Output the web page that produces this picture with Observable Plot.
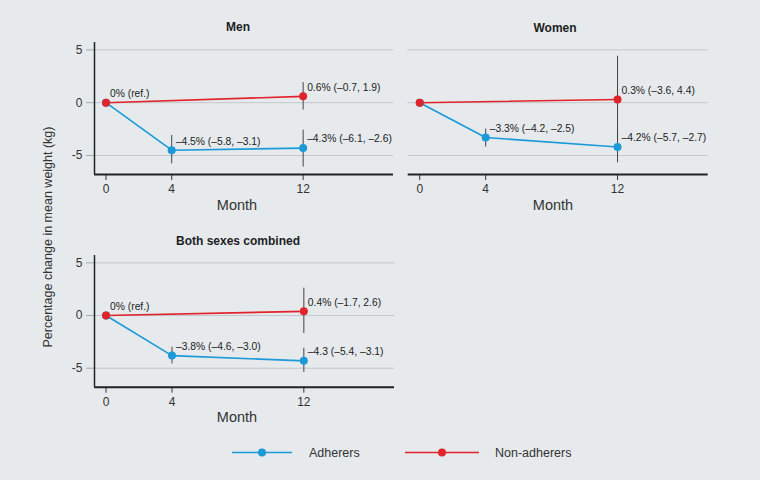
<!DOCTYPE html>
<html>
<head>
<meta charset="utf-8">
<script src="https://cdn.jsdelivr.net/npm/d3@7"></script>
<script src="https://cdn.jsdelivr.net/npm/@observablehq/plot@0.6"></script>
<style>
  html, body { margin: 0; padding: 0; background: #e6eaed; }
  #root { position: relative; width: 760px; height: 480px; background: #e6eaed; overflow: hidden;
          font-family: "Liberation Sans", Arial, sans-serif; color: #222; }
  .abs { position: absolute; white-space: nowrap; line-height: 1; }
  .title { font-weight: bold; font-size: 12px; transform: translate(-50%, -50%); color: #1e1e1e; }
  .month { font-size: 14.5px; transform: translate(-50%, -50%); color: #333; }
  .ylab { font-size: 12.5px; color: #333; transform: translate(-50%, -50%) rotate(-90deg); }
  svg { overflow: visible; }
</style>
</head>
<body>
<div id="root"></div>
<script>
// ---------- data ----------
const series = ["Adherers", "Non-adherers"];
const seriesColors = ["#1b9ad7", "#e1232b"];
const months = [0, 4, 12];
const nonMonths = [0, 12];
const monthTicks = [0, 4, 12];
const valueTicks = [-5, 0, 5];

// Men
const menAdh = [0, -4.5, -4.3];
const menAdhLo = [null, -5.8, -6.1];
const menAdhHi = [null, -3.1, -2.6];
const menAdhLabels = ["", "–4.5% (–5.8, –3.1)", "–4.3% (–6.1, –2.6)"];
const menNon = [0, 0.6];
const menNonLo = [null, -0.7];
const menNonHi = [null, 1.9];
const menNonLabels = ["0% (ref.)", "0.6% (–0.7, 1.9)"];

// Women
const womenAdh = [0, -3.3, -4.2];
const womenAdhLo = [null, -4.2, -5.7];
const womenAdhHi = [null, -2.5, -2.7];
const womenAdhLabels = ["", "–3.3% (–4.2, –2.5)", "–4.2% (–5.7, –2.7)"];
const womenNon = [0, 0.3];
const womenNonLo = [null, -3.6];
const womenNonHi = [null, 4.4];
const womenNonLabels = ["", "0.3% (–3.6, 4.4)"];

// Both sexes combined
const bothAdh = [0, -3.8, -4.3];
const bothAdhLo = [null, -4.6, -5.4];
const bothAdhHi = [null, -3.0, -3.1];
const bothAdhLabels = ["", "–3.8% (–4.6, –3.0)", "–4.3 (–5.4, –3.1)"];
const bothNon = [0, 0.4];
const bothNonLo = [null, -1.7];
const bothNonHi = [null, 2.6];
const bothNonLabels = ["0% (ref.)", "0.4% (–1.7, 2.6)"];

const panelTitles = ["Men", "Women", "Both sexes combined"];
const xLabel = "Month";
const yLabel = "Percentage change in mean weight (kg)";

// ---------- helpers ----------
function rows(group, ms, vals, lo, hi, labels) {
  return ms.map((m, i) => ({group, month: m, value: vals[i], lo: lo[i], hi: hi[i], label: labels[i]}));
}

const xDomain = [-0.7, 17.5];
const yDomain = [-6.8, 5.7];

function panel(data, {showY, width, height, marginTop, marginBottom, marginLeft, marginRight}) {
  const marks = [
    Plot.ruleY(valueTicks, {stroke: "#c3c7cb", strokeWidth: 1}),
  ];
  if (showY) {
    marks.push(Plot.axisY(valueTicks, {tickSize: 8, tickPadding: 4, stroke: "#a5a9ad", fill: "#333", color: "#333",
      fontSize: 12, tickFormat: d => String(d), label: null}));
    marks.push(Plot.ruleX([xDomain[0]], {stroke: "#222", strokeWidth: 1.5}));
  }
  marks.push(
    Plot.axisX(monthTicks, {tickSize: 6, tickPadding: 4, color: "#333", fontSize: 12, label: null}),
    Plot.ruleY([yDomain[0]], {stroke: "#222", strokeWidth: 2}),
    Plot.ruleX(data.filter(d => d.lo != null), {x: "month", y1: "lo", y2: "hi", stroke: "#444", strokeWidth: 1}),
    Plot.line(data, {x: "month", y: "value", z: "group", stroke: "group", strokeWidth: 1.6}),
    Plot.dot(data, {x: "month", y: "value", fill: "group", r: 4, stroke: "none"}),
    Plot.text(data.filter(d => d.label), {x: "month", y: "value", text: "label", dx: 4, dy: -9,
      textAnchor: "start", lineAnchor: "middle", fontSize: 10.3, fill: "#222"})
  );
  return Plot.plot({
    width, height, marginTop, marginBottom, marginLeft, marginRight,
    style: {background: "transparent", fontFamily: "'Liberation Sans', Arial, sans-serif", overflow: "visible"},
    x: {domain: xDomain, axis: null},
    y: {domain: yDomain, axis: null},
    color: {domain: series, range: seriesColors},
    marks
  });
}

const root = document.getElementById("root");
function place(el, left, top) {
  el.style.position = "absolute"; el.style.left = left + "px"; el.style.top = top + "px";
  root.appendChild(el);
}
function label(text, cls, x, y) {
  const d = document.createElement("div");
  d.className = "abs " + cls; d.textContent = text;
  d.style.left = x + "px"; d.style.top = y + "px";
  root.appendChild(d);
}

const men = [...rows(series[0], months, menAdh, menAdhLo, menAdhHi, menAdhLabels),
             ...rows(series[1], nonMonths, menNon, menNonLo, menNonHi, menNonLabels)];
const women = [...rows(series[0], months, womenAdh, womenAdhLo, womenAdhHi, womenAdhLabels),
               ...rows(series[1], nonMonths, womenNon, womenNonLo, womenNonHi, womenNonLabels)];
const both = [...rows(series[0], months, bothAdh, bothAdhLo, bothAdhHi, bothAdhLabels),
              ...rows(series[1], nonMonths, bothNon, bothNonLo, bothNonHi, bothNonLabels)];

place(panel(men, {showY: true, width: 400, height: 220, marginTop: 42, marginBottom: 46, marginLeft: 94, marginRight: 7}), 0, 0);
place(panel(women, {showY: false, width: 360, height: 220, marginTop: 42, marginBottom: 46, marginLeft: 7.7, marginRight: 52.3}), 400, 0);
place(panel(both, {showY: true, width: 400, height: 220, marginTop: 35, marginBottom: 53.3, marginLeft: 94, marginRight: 6}), 0, 220);

label(panelTitles[0], "title", 238, 27);
label(panelTitles[1], "title", 555, 28);
label(panelTitles[2], "title", 238, 241);
label(xLabel, "month", 237, 205);
label(xLabel, "month", 553, 205);
label(xLabel, "month", 237, 417);
label(yLabel, "ylab", 48, 237);

// ---------- legend ----------
const legendItems = [
  {name: series[0], color: seriesColors[0], x1: 232, x2: 292, tx: 309},
  {name: series[1], color: seriesColors[1], x1: 405, x2: 479, tx: 495}
];
const lg = d3.create("svg").attr("width", 760).attr("height", 40);
const g = lg.selectAll("g").data(legendItems).join("g");
g.append("line").attr("x1", d => d.x1).attr("x2", d => d.x2).attr("y1", 22.5).attr("y2", 22.5)
  .attr("stroke", d => d.color).attr("stroke-width", 1.6);
g.append("circle").attr("cx", d => (d.x1 + d.x2) / 2).attr("cy", 22.5).attr("r", 4).attr("fill", d => d.color);
g.append("text").attr("x", d => d.tx).attr("y", 22.5).attr("dy", "0.35em")
  .attr("font-size", 12.5).attr("fill", "#333").attr("font-family", "'Liberation Sans', Arial, sans-serif")
  .text(d => d.name);
place(lg.node(), 0, 430);
</script>
</body>
</html>
